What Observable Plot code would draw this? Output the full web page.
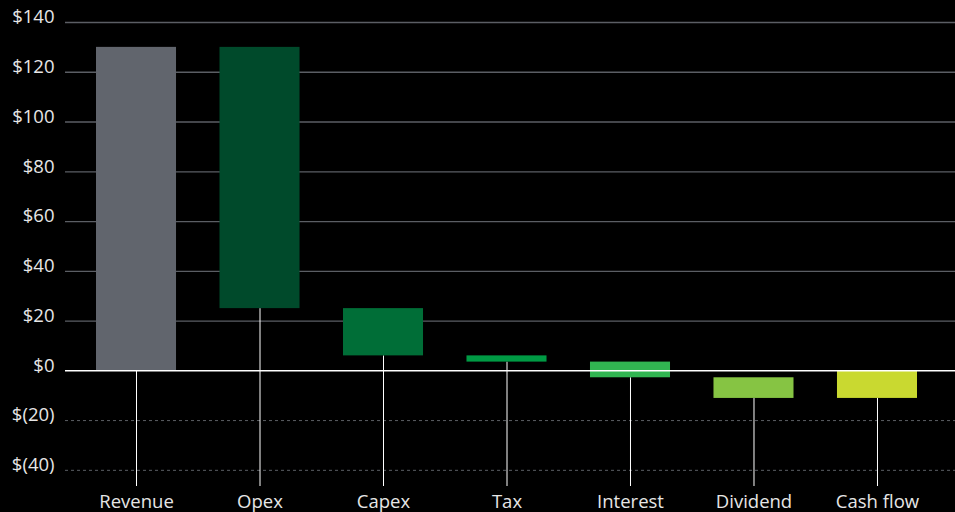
<!DOCTYPE html>
<html>
<head>
<meta charset="utf-8">
<script src="https://cdn.jsdelivr.net/npm/d3@7"></script>
<script src="https://cdn.jsdelivr.net/npm/@observablehq/plot@0.6"></script>
<style>
  html, body { margin: 0; padding: 0; background: #000; }
  #chart svg { display: block; }
</style>
</head>
<body>
<div id="chart"></div>
<script>
const categories = ["Revenue", "Opex", "Capex", "Tax", "Interest", "Dividend", "Cash flow"];
const changes = [130, -105, -19, -2.5, -6.3, -8.3];   // last category is the total
const colors = ["#61656d", "#004a2b", "#006e37", "#009a44", "#31b551", "#86c443", "#c9d930"];
const yTicks = [-40, -20, 0, 20, 40, 60, 80, 100, 120, 140];
const yDomain = [-46.5, 140];

// build waterfall rows
let running = 0;
const rows = categories.map((c, i) => {
  let start, end;
  if (i < changes.length) {
    start = running;
    end = running + changes[i];
    running = end;
  } else {
    start = 0;
    end = running;
  }
  return {category: c, start, end, low: Math.min(start, end), color: colors[i]};
});

const fmt = v => v < 0 ? `$(${Math.abs(v)})` : `$${v}`;

const chart = Plot.plot({
  width: 955,
  height: 512,
  marginTop: 22,
  marginBottom: 26,
  marginLeft: 96,
  marginRight: 38,
  style: {background: "#000", color: "#e6e6e6", fontFamily: "'Open Sans', sans-serif", fontSize: "18.5px"},
  x: {domain: categories, paddingInner: 0.352, paddingOuter: 0, round: false, label: null},
  y: {domain: yDomain, label: null},
  marks: [
    Plot.ruleY(yTicks.filter(v => v > 0), {stroke: "#5b5e64", strokeWidth: 1.3, insetLeft: -31, insetRight: -38}),
    Plot.ruleY(yTicks.filter(v => v < 0), {stroke: "#5b5e64", strokeWidth: 1, strokeDasharray: "3,3", insetLeft: -31, insetRight: -38}),
    Plot.ruleX(rows, {x: "category", y1: "low", y2: yDomain[0], stroke: "#ffffff", strokeWidth: 1}),
    Plot.barY(rows, {x: "category", y1: "start", y2: "end", fill: "color"}),
    Plot.ruleY([0], {stroke: "#ffffff", strokeWidth: 1.5, insetLeft: -31, insetRight: -38}),
    Plot.axisY({ticks: yTicks, tickFormat: fmt, tickSize: 0, tickPadding: 42, dy: -5, label: null, fill: "#e6e6e6"}),
    Plot.axisX({tickSize: 0, tickPadding: 8, label: null, fill: "#e6e6e6"})
  ]
});
document.getElementById("chart").append(chart);
</script>
</body>
</html>
